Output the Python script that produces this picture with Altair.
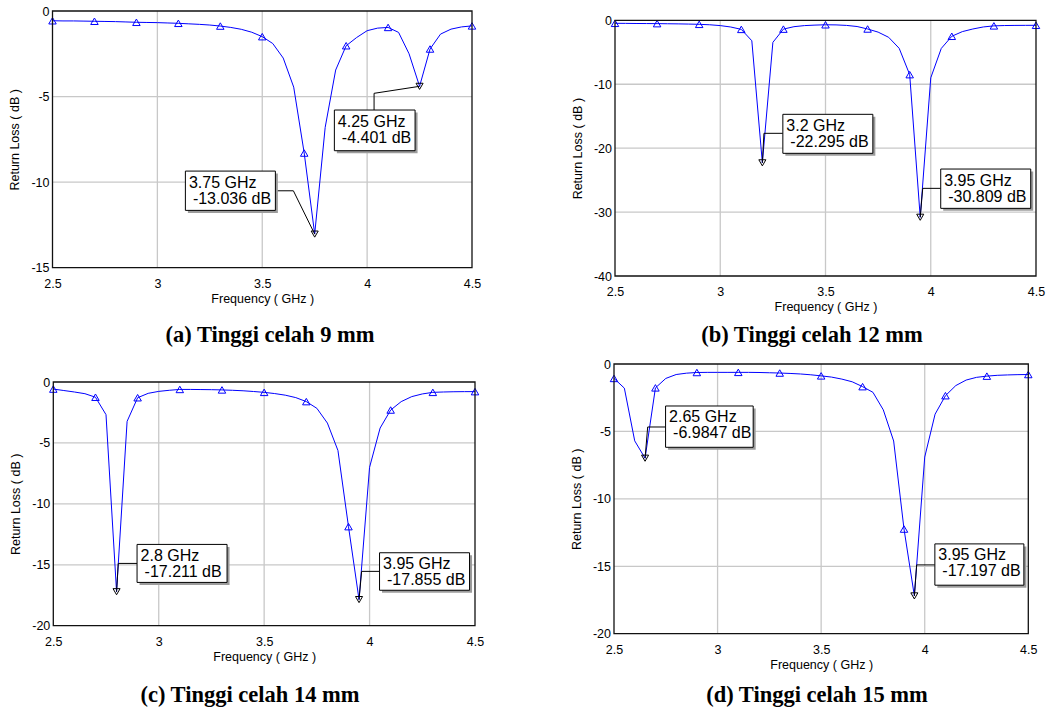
import altair as alt
import pandas as pd

# ---------------------------------------------------------------------------
# Simulated return loss (dB) versus frequency (GHz) for four slot heights
# ---------------------------------------------------------------------------
FREQ = [2.50, 2.55, 2.60, 2.65, 2.70, 2.75, 2.80, 2.85, 2.90, 2.95,
        3.00, 3.05, 3.10, 3.15, 3.20, 3.25, 3.30, 3.35, 3.40, 3.45,
        3.50, 3.55, 3.60, 3.65, 3.70, 3.75, 3.80, 3.85, 3.90, 3.95,
        4.00, 4.05, 4.10, 4.15, 4.20, 4.25, 4.30, 4.35, 4.40, 4.45, 4.50]

RL_9MM = [-0.57, -0.58, -0.58, -0.59, -0.60, -0.61, -0.62, -0.64, -0.66, -0.67,
          -0.68, -0.70, -0.72, -0.75, -0.78, -0.82, -0.88, -0.96, -1.07, -1.24,
          -1.50, -1.90, -2.75, -4.45, -8.30, -13.036, -6.80, -3.45, -2.03, -1.55,
          -1.15, -1.00, -0.96, -1.25, -2.50, -4.401, -2.22, -1.35, -1.06, -0.93, -0.87]

RL_12MM = [-0.47, -0.48, -0.50, -0.51, -0.52, -0.54, -0.56, -0.59, -0.63, -0.70,
           -0.83, -1.05, -1.42, -3.20, -22.295, -3.45, -1.38, -1.00, -0.83, -0.75,
           -0.70, -0.72, -0.80, -0.97, -1.36, -1.85, -2.66, -4.38, -8.50, -30.809,
           -9.00, -4.40, -2.50, -1.77, -1.36, -1.04, -0.87, -0.82, -0.80, -0.79, -0.78]

RL_14MM = [-0.58, -0.70, -0.82, -0.96, -1.25, -2.68, -17.211, -3.23, -1.29, -0.93,
           -0.77, -0.68, -0.61, -0.61, -0.62, -0.63, -0.65, -0.68, -0.72, -0.78,
           -0.85, -0.95, -1.08, -1.28, -1.61, -2.16, -3.37, -5.62, -11.87, -17.855,
           -7.00, -3.78, -2.30, -1.61, -1.20, -0.98, -0.85, -0.82, -0.80, -0.79, -0.79]

RL_15MM = [-1.07, -1.79, -5.70, -6.9847, -1.77, -1.07, -0.78, -0.68, -0.63, -0.62,
           -0.62, -0.62, -0.62, -0.62, -0.63, -0.65, -0.67, -0.70, -0.74, -0.80,
           -0.88, -0.97, -1.12, -1.32, -1.68, -2.10, -3.40, -5.71, -12.24, -17.197,
           -6.90, -3.72, -2.35, -1.60, -1.19, -0.99, -0.90, -0.84, -0.81, -0.79, -0.78]

# frequencies carrying the open triangle symbols
SYMBOL_FREQ = [2.5, 2.7, 2.9, 3.1, 3.3, 3.5, 3.7, 3.9, 4.1, 4.3, 4.5]

# resonance read-outs (frequency GHz, return loss dB)
DIPS_9MM = [(3.75, -13.036), (4.25, -4.401)]
DIPS_12MM = [(3.2, -22.295), (3.95, -30.809)]
DIPS_14MM = [(2.8, -17.211), (3.95, -17.855)]
DIPS_15MM = [(2.65, -6.9847), (3.95, -17.197)]

CAPTIONS = ["(a) Tinggi celah 9 mm", "(b) Tinggi celah 12 mm",
            "(c) Tinggi celah 14 mm", "(d) Tinggi celah 15 mm"]

# ---------------------------------------------------------------------------
# Page layout (pixels)
# ---------------------------------------------------------------------------
W, H = 1048, 709
BLUE = "#0000ff"
SANS = "Liberation Sans"
SERIF = "Liberation Serif"

# plot rectangle of each panel: left, right, top, bottom
FRAMES = [(52.5, 472.0, 11.0, 267.7),
          (615.0, 1036.0, 20.3, 276.0),
          (53.3, 475.0, 382.0, 625.7),
          (614.0, 1028.3, 364.0, 633.7)]

# y axis: lower limit and tick step per panel
Y_LIMITS = [(-15, 5), (-40, 10), (-20, 5), (-20, 5)]

# call-out boxes relative to their marker: (left, top, width, height, leader path)
def right_box(top, h, w=90.0, lead_y=None, elbow=2.0):
    ly = top + h / 2.0 if lead_y is None else lead_y
    return (20.5, top, w, h, [(20.5, ly), (elbow, ly), (0.0, 0.0)])

CALLOUTS = [
    [(-129.3, -63.0, 90.0, 39.3, [(-39.3, -43.3), (-21.3, -43.3), (0.0, 0.0)]),
     (-85.2, 23.7, 80.7, 40.7, [(-45.5, 23.7), (-45.5, 7.0), (0.0, 0.0)])],
    [right_box(-48.5, 39.0, lead_y=-29.5, elbow=1.6),
     right_box(-48.2, 39.3, lead_y=-28.9, elbow=2.5)],
    [right_box(-47.3, 38.0, lead_y=-28.3, elbow=1.7),
     right_box(-46.8, 37.5, lead_y=-28.2, elbow=2.6)],
    [right_box(-52.2, 41.3, w=87.6, lead_y=-31.2, elbow=2.6),
     right_box(-52.0, 41.3, w=89.0, lead_y=-31.0, elbow=2.3)],
]

CAPTION_POS = [(270, 342), (812, 342), (250, 701.5), (817, 701.5)]


def panel(rl, dips, frame, ylim, callouts):
    x0, x1, y0, y1 = frame
    ymin, ystep = ylim
    yticks = list(range(ymin, 1, ystep))

    xs = alt.Scale(domain=[2.5, 4.5], range=[x0, x1], nice=False, zero=False)
    ys = alt.Scale(domain=[ymin, 0], range=[y1, y0], nice=False, zero=False)
    X = alt.X("f:Q", scale=xs, axis=alt.Axis(
        orient="bottom", offset=y1 - H, values=[2.5, 3, 3.5, 4, 4.5],
        labelExpr="'' + datum.value", title="Frequency ( GHz )", titleY=24.5,
        grid=False, domain=False, ticks=False, tickSize=0, labelPadding=9.5,
        labelFlush=False, labelOverlap=False,
        labelFont=SANS, labelFontSize=12.5, labelColor="#000",
        titleFont=SANS, titleFontSize=12.5, titleFontWeight="normal", titleColor="#000"))
    Y = alt.Y("r:Q", scale=ys, axis=alt.Axis(
        orient="left", offset=-x0, values=yticks,
        labelExpr="'' + datum.value", title="Return Loss ( dB )", titleX=-31,
        titleAngle=270, titleBaseline="bottom",
        grid=False, domain=False, ticks=False, tickSize=0, labelPadding=3.5,
        labelFlush=False, labelOverlap=False,
        labelFont=SANS, labelFontSize=12.5, labelColor="#000",
        titleFont=SANS, titleFontSize=12.5, titleFontWeight="normal", titleColor="#000"))

    frame_df = pd.DataFrame({"f": [2.5], "f2": [4.5], "r": [ymin], "r2": [0]})
    layers = [alt.Chart(frame_df).mark_rect(color="white").encode(
        x=X, x2="f2", y=Y, y2="r2")]

    vgrid = pd.DataFrame({"f": [3.0, 3.5, 4.0], "r": [ymin] * 3, "r2": [0] * 3})
    layers.append(alt.Chart(vgrid).mark_rule(color="#c8c8c8", strokeWidth=1.3).encode(
        x=X, y=Y, y2="r2"))
    inner = [v for v in yticks if ymin < v < 0]
    hgrid = pd.DataFrame({"r": inner, "f": [2.5] * len(inner), "f2": [4.5] * len(inner)})
    layers.append(alt.Chart(hgrid).mark_rule(color="#c8c8c8", strokeWidth=1.3).encode(
        x=X, x2="f2", y=Y))

    curve = pd.DataFrame({"f": FREQ, "r": rl})
    layers.append(alt.Chart(curve).mark_line(color=BLUE, strokeWidth=1).encode(x=X, y=Y))

    sym = curve[curve["f"].round(2).isin(SYMBOL_FREQ)]
    layers.append(alt.Chart(sym).mark_point(
        shape="triangle-up", filled=False, color=BLUE, size=56, strokeWidth=1, opacity=1
    ).encode(x=X, y=Y))

    dip_df = pd.DataFrame({"f": [d[0] for d in dips], "r": [d[1] for d in dips]})
    layers.append(alt.Chart(dip_df).mark_point(
        shape="triangle-down", filled=False, color="#000", size=50, strokeWidth=1, opacity=1
    ).encode(x=X, y=Y))

    frame_line = alt.Chart(frame_df).mark_rect(
        filled=False, stroke="#111", strokeWidth=1.3, fillOpacity=0
    ).encode(x=X, x2="f2", y=Y, y2="r2")

    for (f, r), (bl, bt, bw, bh, path) in zip(dips, callouts):
        d = pd.DataFrame({"f": [f], "f2": [f], "r": [r], "r2": [r],
                          "t1": [f"{f:g} GHz"], "t2": [f"{r:g} dB"]})
        base = alt.Chart(d)
        for p, q in zip(path[:-1], path[1:]):
            layers.append(base.mark_rule(
                color="#000", strokeWidth=1,
                xOffset=p[0], yOffset=p[1], x2Offset=q[0], y2Offset=q[1]
            ).encode(x=X, x2="f2", y=Y, y2="r2"))
        layers.append(base.mark_rect(
            color="#9c9c9c",
            xOffset=bl + 2.5, x2Offset=bl + bw + 2.5,
            yOffset=bt + 2.5, y2Offset=bt + bh + 2.5
        ).encode(x=X, x2="f2", y=Y, y2="r2"))
        layers.append(base.mark_rect(
            fill="white", stroke="#000", strokeWidth=1,
            xOffset=bl, x2Offset=bl + bw, yOffset=bt, y2Offset=bt + bh
        ).encode(x=X, x2="f2", y=Y, y2="r2"))
        layers.append(base.mark_text(
            align="left", baseline="alphabetic", font=SANS, fontSize=16, color="#000",
            dx=bl + 3.5, dy=bt + 16.5
        ).encode(x=X, y=Y, text="t1:N"))
        layers.append(base.mark_text(
            align="left", baseline="alphabetic", font=SANS, fontSize=16, color="#000",
            dx=bl + 7.5, dy=bt + 32.5
        ).encode(x=X, y=Y, text="t2:N"))

    layers.append(frame_line)
    return alt.layer(*layers)


panels = [
    panel(RL_9MM, DIPS_9MM, FRAMES[0], Y_LIMITS[0], CALLOUTS[0]),
    panel(RL_12MM, DIPS_12MM, FRAMES[1], Y_LIMITS[1], CALLOUTS[1]),
    panel(RL_14MM, DIPS_14MM, FRAMES[2], Y_LIMITS[2], CALLOUTS[2]),
    panel(RL_15MM, DIPS_15MM, FRAMES[3], Y_LIMITS[3], CALLOUTS[3]),
]

captions = [
    alt.Chart(pd.DataFrame({"t": [txt]})).mark_text(
        align="center", baseline="alphabetic", font=SERIF, fontSize=22.5,
        fontWeight="bold", color="#000"
    ).encode(x=alt.value(cx), y=alt.value(cy), text="t:N")
    for txt, (cx, cy) in zip(CAPTIONS, CAPTION_POS)
]

chart = alt.layer(*panels, *captions).resolve_scale(
    x="independent", y="independent"
).resolve_axis(
    x="independent", y="independent"
).properties(
    width=W, height=H, autosize="none", padding=0, background="white"
).configure_view(stroke=None)

chart.save("out.html", embed_options={"renderer": "svg", "actions": False})
